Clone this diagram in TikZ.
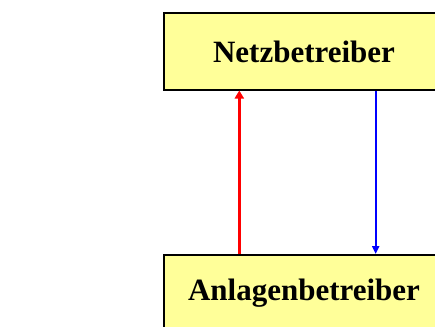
\documentclass[tikz,border=0pt]{standalone}
\usepackage{fontspec}
\setmainfont{Liberation Serif}
\usetikzlibrary{arrows.meta}
\definecolor{boxfill}{RGB}{255,255,153}
\tikzset{
  actor/.style={draw=black, line width=2pt, fill=boxfill, minimum width=281pt, minimum height=76pt, inner sep=0pt, font=\fontsize{31}{36}\selectfont\bfseries},
  flowred/.style={red, line width=3pt, -{Triangle[length=8pt,width=9pt]}},
  flowblue/.style={blue, line width=2.2pt, -{Triangle[length=8pt,width=7pt]}}
}
\begin{document}
\begin{tikzpicture}[x=1pt,y=1pt]
\useasboundingbox (0,0) rectangle (435,-326);
\node[actor] (net) at (304,-51.5) {Netzbetreiber};
\node[actor] (anl) at (304,-293) {Anlagenbetreiber};
\coordinate (r1) at (239.3,0);
\coordinate (b1) at (375.7,0);
\draw[flowred] (anl.north -| r1) -- (net.south -| r1);
\draw[flowblue] (net.south -| b1) -- (anl.north -| b1);
\end{tikzpicture}
\end{document}
